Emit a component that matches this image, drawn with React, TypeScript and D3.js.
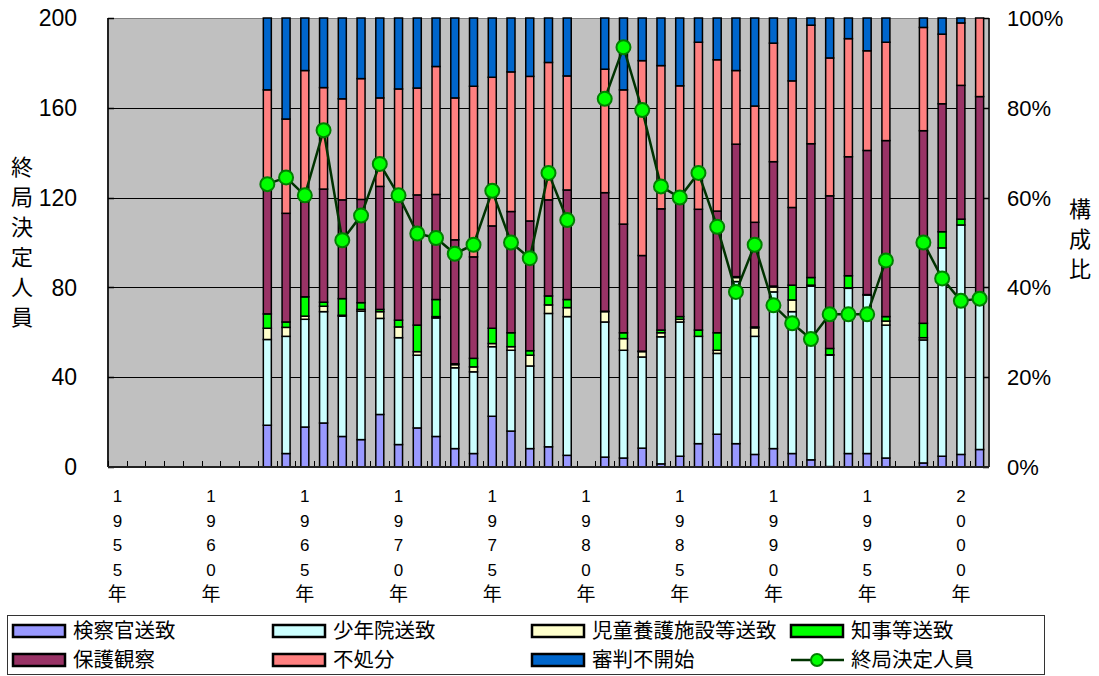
import React from "react";
import * as d3 from "d3";

// ---- Data ----
const firstYear = 1955;
const lastYear = 2001;
const labelYears = [1955, 1960, 1965, 1970, 1975, 1980, 1985, 1990, 1995, 2000];
const leftTicks = [0, 40, 80, 120, 160, 200];
const rightTicks = [0, 20, 40, 60, 80, 100];

const barYears = [
  1963, 1964, 1965, 1966, 1967, 1968, 1969, 1970, 1971, 1972, 1973, 1974, 1975, 1976, 1977, 1978, 1979,
  1981, 1982, 1983, 1984, 1985, 1986, 1987, 1988, 1989, 1990, 1991, 1992, 1993, 1994, 1995, 1996,
  1998, 1999, 2000, 2001,
];

const seriesNames = [
  "検察官送致",
  "少年院送致",
  "児童養護施設等送致",
  "知事等送致",
  "保護観察",
  "不処分",
  "審判不開始",
];
const seriesColors = ["#9999FF", "#CCFFFF", "#FFFFCC", "#00FF00", "#993366", "#FF8080", "#0066CC"];

// percentages (構成比)
const kensatsu = [9.3, 3.0, 8.9, 9.8, 6.8, 6.1, 11.7, 5.0, 8.7, 6.8, 4.1, 3.0, 11.3, 8.0, 4.1, 4.5, 2.6,
  2.2, 2.0, 4.2, 0.7, 2.4, 5.2, 7.3, 5.2, 2.8, 4.1, 3.0, 1.6, 0.1, 3.0, 3.0, 2.0,
  0.9, 2.4, 2.8, 3.9];
const shonenin = [19.1, 26.1, 24.0, 24.8, 26.8, 28.6, 21.4, 23.8, 16.2, 26.4, 18.0, 18.2, 15.5, 18.0, 18.4, 29.7, 30.9,
  30.1, 24.0, 20.3, 28.3, 29.9, 23.9, 18.0, 36.1, 26.3, 34.9, 31.6, 38.7, 24.8, 36.8, 35.3, 29.6,
  27.4, 46.4, 51.1, 33.8];
const jido = [2.5, 2.0, 0.7, 1.2, 0.2, 0.4, 1.5, 2.4, 0.8, 0.3, 0.7, 1.1, 0.7, 0.8, 2.4, 1.9, 2.0,
  2.3, 2.6, 1.2, 0.9, 0.6, 0.0, 0.7, 0.9, 1.9, 1.1, 2.6, 0.2, 0.1, 0.1, 0.0, 0.9,
  0.5, 0.0, 0.0, 0.0];
const chiji = [3.2, 1.2, 4.3, 0.9, 3.7, 1.5, 0.5, 1.5, 5.9, 3.8, 0.2, 1.9, 3.4, 3.1, 1.0, 2.0, 1.8,
  0.1, 1.3, 0.1, 0.6, 0.6, 1.4, 3.9, 0.2, 0.2, 0.2, 3.3, 1.7, 1.4, 2.7, 0.1, 1.0,
  3.2, 3.6, 1.3, 0.0];
const hogo = [27.6, 24.2, 21.2, 25.2, 22.0, 23.0, 27.4, 27.2, 29.0, 23.4, 27.6, 22.6, 22.8, 27.0, 28.9, 21.4, 24.4,
  26.4, 24.2, 21.3, 27.0, 25.4, 26.9, 27.1, 29.5, 23.3, 27.7, 17.3, 29.8, 34.0, 26.5, 32.1, 39.2,
  42.9, 28.5, 29.8, 44.8];
const fushobun = [22.3, 21.0, 29.2, 22.6, 22.5, 26.9, 19.7, 24.3, 23.8, 28.5, 31.6, 38.0, 33.1, 31.1, 32.2, 30.6, 25.4,
  27.5, 29.9, 43.4, 31.9, 26.0, 37.2, 33.7, 16.4, 25.9, 26.4, 28.2, 26.4, 30.7, 26.3, 22.2, 21.9,
  23.0, 15.5, 13.9, 17.5];
const fukaishi = [16.0, 22.5, 11.7, 15.5, 18.0, 13.5, 17.8, 15.8, 15.6, 10.8, 17.8, 15.2, 13.2, 12.0, 13.0, 9.9, 12.9,
  11.4, 16.0, 9.5, 10.6, 15.1, 5.4, 9.3, 11.7, 19.6, 5.6, 14.0, 1.6, 8.9, 4.6, 7.3, 5.4,
  2.1, 3.6, 1.1, 0.0];

// 終局決定人員 (left axis)
const totals = [126, 129, 121, 150, 101, 112, 135, 121, 104, 102, 95, 99, 123, 100, 93, 131, 110,
  164, 187, 159, 125, 120, 131, 107, 78, 99, 72, 64, 57, 68, 68, 68, 92,
  100, 84, 74, 75];

const lineName = "終局決定人員";

// ---- Layout ----
const W = 1099;
const H = 676;
const plot = { left: 108, right: 989, top: 18, bottom: 467 };
const NUM_FONT = "'Liberation Sans', Arial, 'Noto Sans CJK JP', sans-serif";
const JP_FONT = "'Noto Sans CJK JP', 'Liberation Sans', sans-serif";

export default function App() {
  const allYears = d3.range(firstYear, lastYear + 1);
  const x = d3.scaleBand<number>().domain(allYears).range([plot.left, plot.right]).padding(0);
  const yL = d3.scaleLinear().domain([0, 200]).range([plot.bottom, plot.top]);
  const yR = d3.scaleLinear().domain([0, 100]).range([plot.bottom, plot.top]);

  const seriesArrays = [kensatsu, shonenin, jido, chiji, hogo, fushobun, fukaishi];
  const rows = barYears.map((yr, i) => {
    const o: any = { year: yr };
    seriesNames.forEach((n, k) => (o[n] = seriesArrays[k][i]));
    return o;
  });
  const stacked = d3.stack<any>().keys(seriesNames)(rows);

  const barW = 8;
  const cx = (yr: number) => (x(yr) as number) + x.bandwidth() / 2;

  const lineData = allYears.map((yr) => {
    const i = barYears.indexOf(yr);
    return { year: yr, v: i >= 0 ? totals[i] : null };
  });
  const line = d3
    .line<any>()
    .defined((d) => d.v != null)
    .x((d) => cx(d.year))
    .y((d) => yL(d.v));

  const legendCols = [13, 273, 532, 791];
  const legendRows = [631, 660];
  const legendItems = [
    ...seriesNames.slice(0, 4).map((n, i) => ({ name: n, color: seriesColors[i], col: i, row: 0, line: false })),
    ...seriesNames.slice(4).map((n, i) => ({ name: n, color: seriesColors[4 + i], col: i, row: 1, line: false })),
    { name: lineName, color: "", col: 3, row: 1, line: true },
  ];

  const leftTitle = Array.from("終局決定人員");
  const rightTitle = Array.from("構成比");

  return (
    <svg
      width={W}
      height={H}
      style={{ position: "absolute", left: 0, top: 0, background: "#fff" }}
    >
      {/* plot background */}
      <rect x={plot.left} y={plot.top} width={plot.right - plot.left} height={plot.bottom - plot.top} fill="#C0C0C0" />
      {/* grid lines */}
      {leftTicks.slice(1, -1).map((t) => (
        <line key={t} x1={plot.left} x2={plot.right} y1={Math.round(yL(t)) + 0.5} y2={Math.round(yL(t)) + 0.5} stroke="#000" strokeWidth={1} />
      ))}
      {/* border */}
      <line x1={plot.left} x2={plot.right} y1={plot.top + 0.5} y2={plot.top + 0.5} stroke="#808080" strokeWidth={1} />
      <line x1={plot.left} x2={plot.left} y1={plot.top} y2={plot.bottom} stroke="#222" strokeWidth={2} />
      <line x1={plot.right} x2={plot.right} y1={plot.top} y2={plot.bottom} stroke="#333" strokeWidth={2} />
      {/* left axis ticks */}
      {leftTicks.map((t) => (
        <line key={"lt" + t} x1={plot.left} x2={plot.left + 6} y1={Math.round(yL(t)) + 0.5} y2={Math.round(yL(t)) + 0.5} stroke="#000" strokeWidth={1.5} />
      ))}
      {rightTicks.map((t) => (
        <line key={"rt" + t} x1={plot.right - 6} x2={plot.right} y1={Math.round(yR(t)) + 0.5} y2={Math.round(yR(t)) + 0.5} stroke="#000" strokeWidth={1.5} />
      ))}
      {/* bottom category ticks */}
      {allYears.map((yr) => (
        <line key={"bt" + yr} x1={Math.round(x(yr) as number) + 0.5} x2={Math.round(x(yr) as number) + 0.5} y1={plot.bottom} y2={plot.bottom - 6} stroke="#000" strokeWidth={1} />
      ))}

      {/* stacked bars */}
      {stacked.map((s, k) => (
        <g key={s.key} fill={seriesColors[k]} stroke="#000" strokeWidth={1.5}>
          {s.map((d, i) => (
            <rect
              key={i}
              x={cx(barYears[i]) - barW / 2}
              y={yR(d[1])}
              width={barW}
              height={Math.max(0, yR(d[0]) - yR(d[1]))}
            />
          ))}
        </g>
      ))}

      <line x1={plot.left} x2={plot.right} y1={plot.bottom} y2={plot.bottom} stroke="#222" strokeWidth={2} />

      {/* total line */}
      <path d={line(lineData) || ""} fill="none" stroke="#003300" strokeWidth={2.5} />
      {barYears.map((yr, i) => (
        <circle key={"c" + yr} cx={cx(yr)} cy={yL(totals[i])} r={7} fill="#00FF00" stroke="#008000" strokeWidth={2} />
      ))}

      {/* left axis labels */}
      {leftTicks.map((t) => (
        <text key={"ll" + t} x={77} y={yL(t)} dy="0.36em" textAnchor="end" fontFamily={NUM_FONT} fontSize={23} fill="#000">
          {t}
        </text>
      ))}
      {/* right axis labels */}
      {rightTicks.map((t) => (
        <text key={"rl" + t} x={1007} y={yR(t)} dy="0.36em" textAnchor="start" fontFamily={NUM_FONT} fontSize={22} fill="#000">
          {t + "%"}
        </text>
      ))}
      {/* x labels (vertical) */}
      {labelYears.map((yr) => (
        <g key={"xl" + yr}>
          {Array.from(String(yr) + "年").map((ch, j) => (
            <text
              key={j}
              x={cx(yr)}
              y={496 + j * 24.5}
              dy="0.36em"
              textAnchor="middle"
              fontFamily={j < 4 ? NUM_FONT : JP_FONT}
              fontSize={j < 4 ? 17 : 19}
              fill="#000"
            >
              {ch}
            </text>
          ))}
        </g>
      ))}
      {/* axis titles */}
      {leftTitle.map((ch, j) => (
        <text key={"lt" + j} x={22} y={167 + j * 30} dy="0.36em" textAnchor="middle" fontFamily={JP_FONT} fontSize={22} fill="#000">
          {ch}
        </text>
      ))}
      {rightTitle.map((ch, j) => (
        <text key={"rtt" + j} x={1080} y={209 + j * 30} dy="0.36em" textAnchor="middle" fontFamily={JP_FONT} fontSize={22} fill="#000">
          {ch}
        </text>
      ))}

      {/* legend */}
      <rect x={7.5} y={615.5} width={1037} height={59} fill="#fff" stroke="#333" strokeWidth={1} />
      {legendItems.map((it) => {
        const lx = legendCols[it.col];
        const ly = legendRows[it.row];
        return (
          <g key={"lg" + it.name}>
            {it.line ? (
              <g>
                <line x1={lx} x2={lx + 53} y1={ly} y2={ly} stroke="#003300" strokeWidth={2.5} />
                <circle cx={lx + 26} cy={ly} r={6} fill="#00FF00" stroke="#008000" strokeWidth={2} />
              </g>
            ) : (
              <rect x={lx} y={ly - 6} width={52} height={12} fill={it.color} stroke="#000" strokeWidth={2.5} />
            )}
            <text x={lx + 60} y={ly} dy="0.36em" fontFamily={JP_FONT} fontSize={20.5} fill="#000">
              {it.name}
            </text>
          </g>
        );
      })}
    </svg>
  );
}
